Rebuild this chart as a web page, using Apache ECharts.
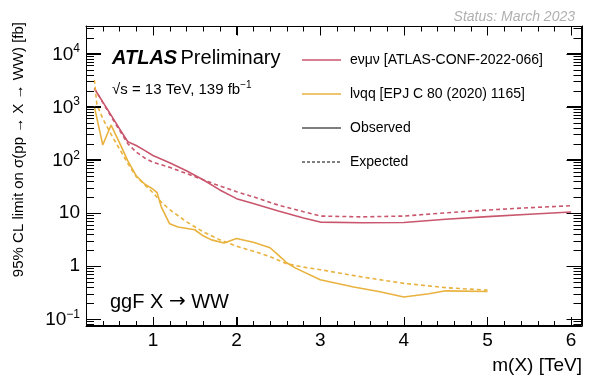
<!DOCTYPE html>
<html>
<head>
<meta charset="utf-8">
<script src="https://cdn.jsdelivr.net/npm/echarts@6/dist/echarts.min.js"></script>
<style>
  html, body { margin: 0; padding: 0; background: #ffffff; }
  #chart { width: 589px; height: 383px; }
</style>
</head>
<body>
<div id="chart"></div>
<script>
// ggF X -> WW: 95% CL upper limits on sigma(pp -> X -> WW) in fb versus m(X) in TeV

// e nu mu nu channel [ATLAS-CONF-2022-066]
const emuMass     = [0.3, 0.4, 0.5, 0.6, 0.7, 0.8, 0.9, 1.0, 1.2, 1.4, 1.6, 1.8, 2.0, 2.2, 2.5, 2.8, 3.0, 3.5, 4.0, 4.5, 5.0, 5.5, 6.0];
const emuObserved = [2200, 1230, 690, 385, 218, 185, 150, 120, 88, 62, 42, 27, 18.5, 15, 10.8, 8.0, 6.7, 6.5, 6.6, 7.6, 8.5, 9.4, 10.4];
const emuExpected = [2200, 1200, 650, 360, 200, 140, 108, 90, 72, 55, 42, 32, 25, 20, 14, 10.5, 8.7, 8.4, 8.7, 10.0, 11.3, 12.5, 13.6];

// l nu qq channel [EPJ C 80 (2020) 1165]
const lvqqObsMass = [0.3, 0.4, 0.5, 0.6, 0.7, 0.8, 0.9, 1.0, 1.05, 1.1, 1.2, 1.3, 1.5, 1.6, 1.7, 1.85, 2.0, 2.2, 2.4, 2.5, 2.6, 2.7, 3.0, 3.4, 3.7, 4.0, 4.3, 4.5, 5.0];
const lvqqObserved = [1000, 190, 450, 210, 95, 50, 35, 28, 24, 13, 6.2, 5.4, 4.8, 3.7, 3.1, 2.7, 3.3, 2.8, 2.2, 1.6, 1.15, 0.92, 0.55, 0.4, 0.33, 0.26, 0.3, 0.34, 0.33];
const lvqqExpMass = [0.3, 0.33, 0.4, 0.5, 0.6, 0.7, 0.8, 0.9, 1.0, 1.1, 1.2, 1.4, 1.6, 1.8, 2.0, 2.2, 2.4, 2.6, 2.8, 3.0, 3.5, 4.0, 4.5, 5.0];
const lvqqExpected = [3200, 1100, 600, 300, 160, 85, 48, 34, 24, 16, 11.5, 6.8, 4.4, 3.1, 2.35, 1.9, 1.5, 1.1, 0.95, 0.85, 0.62, 0.47, 0.39, 0.35];

// axis ticks
const xMajorTicks = [1, 2, 3, 4, 5, 6];
const yMajorTicks = [0.1, 1, 10, 100, 1000, 10000];
const xRange = [0.2, 6.13];
const yRange = [0.074, 33000];

const xMinorTicks = [];
for (let i = 1; i <= 30; i++) {
  const v = Math.round(i * 2) / 10;
  if (v > xRange[0] && v < xRange[1] && !xMajorTicks.includes(v)) xMinorTicks.push(v);
}
const yMinorTicks = [];
for (let e = -2; e <= 4; e++) {
  for (let d = 2; d <= 9; d++) {
    const v = d * Math.pow(10, e);
    if (v > yRange[0] && v < yRange[1]) yMinorTicks.push(v);
  }
}

const RED = '#c9566d';
const YELLOW = '#e9b23e';
const FONT = '"Liberation Sans", Arial, Helvetica, sans-serif';

const pairs = (xs, ys) => xs.map((x, i) => [x, ys[i]]);

function powerLabel(v) {
  const e = Math.round(Math.log10(v));
  if (e === 0) return '{b|1}';
  if (e === 1) return '{b|10}';
  return '{b|10}{sup|' + (e < 0 ? '\u2212' + (-e) : e) + '}';
}

const lineStyleBlack = () => ({ color: '#000', width: 1 });

function xAxisDef(position, withLabels) {
  return {
    type: 'value', position: position, min: xRange[0], max: xRange[1],
    axisLine: { show: true, onZero: false, lineStyle: lineStyleBlack() },
    axisTick: { show: true, inside: true, length: 9, customValues: xMajorTicks, lineStyle: lineStyleBlack() },
    axisLabel: withLabels
      ? { show: true, customValues: xMajorTicks, margin: 5, fontSize: 19, color: '#000', fontFamily: FONT }
      : { show: false },
    splitLine: { show: false }
  };
}

function yAxisDef(position, withLabels) {
  return {
    type: 'log', logBase: 10, position: position, min: yRange[0], max: yRange[1],
    axisLine: { show: true, onZero: false, lineStyle: lineStyleBlack() },
    axisTick: { show: true, inside: true, length: 15, customValues: yMajorTicks, lineStyle: lineStyleBlack() },
    axisLabel: withLabels
      ? {
          show: true, customValues: yMajorTicks, margin: 6, color: '#000',
          formatter: powerLabel,
          rich: {
            b: { fontSize: 19, fontFamily: FONT, color: '#000', verticalAlign: 'bottom' },
            sup: { fontSize: 12, fontFamily: FONT, color: '#000', verticalAlign: 'bottom', padding: [0, 0, 9, 0] }
          }
        }
      : { show: false },
    splitLine: { show: false }
  };
}

function lineSeries(name, data, color, dashed) {
  return {
    name: name, type: 'line', data: data,
    xAxisIndex: 0, yAxisIndex: 0,
    showSymbol: false, symbol: 'none', smooth: false,
    lineStyle: { color: color, width: 1.6, type: dashed ? [4, 3] : 'solid' },
    silent: true, z: 3
  };
}

// tick marks along the bottom and left sides, placed through the axis scales
const snap = p => Math.round(p) + 0.5;
const tickStyle = { stroke: '#000', lineWidth: 1 };

function xTickSeries(values, len) {
  return {
    type: 'custom', xAxisIndex: 0, yAxisIndex: 0, silent: true, clip: false, z: 4,
    data: values.map(v => [v, 1]),
    renderItem: (params, api) => {
      const cs = params.coordSys;
      const px = snap(api.coord([api.value(0), 1])[0]);
      const bottom = cs.y + cs.height;
      return { type: 'line', shape: { x1: px, y1: bottom, x2: px, y2: bottom - len }, style: tickStyle };
    }
  };
}

function yTickSeries(values, len) {
  return {
    type: 'custom', xAxisIndex: 0, yAxisIndex: 0, silent: true, clip: false, z: 4,
    data: values.map(v => [1, v]),
    renderItem: (params, api) => {
      const cs = params.coordSys;
      const py = snap(api.coord([1, api.value(1)])[1]);
      return { type: 'line', shape: { x1: cs.x, y1: py, x2: cs.x + len, y2: py }, style: tickStyle };
    }
  };
}

const legendRows = [
  { y: 60, color: RED, dashed: false, text: 'e\u03bd\u03bc\u03bd [ATLAS-CONF-2022-066]' },
  { y: 94, color: YELLOW, dashed: false, text: 'l\u03bdqq [EPJ C 80 (2020) 1165]' },
  { y: 128, color: '#555555', dashed: false, text: 'Observed' },
  { y: 162, color: '#000000', dashed: true, text: 'Expected' }
];

const graphics = [];
legendRows.forEach(r => {
  graphics.push({
    type: 'line', shape: { x1: 302, y1: r.y, x2: 341, y2: r.y },
    style: { stroke: r.color, lineWidth: r.dashed ? 1 : 1.6, lineDash: r.dashed ? [3, 2] : null }
  });
  graphics.push({
    type: 'text', x: 350, y: r.y,
    style: { text: r.text, fill: '#000', font: '14px ' + FONT, verticalAlign: 'middle' }
  });
});

graphics.push(
  {
    type: 'text', x: 575, y: 17,
    style: { text: 'Status: March 2023', fill: '#b0b0b0', font: 'italic 14px ' + FONT, align: 'right', verticalAlign: 'middle' }
  },
  {
    type: 'text', x: 112, y: 58,
    style: {
      text: '{a|ATLAS} {p|Preliminary}', verticalAlign: 'middle',
      rich: {
        a: { font: 'italic bold 20px ' + FONT, fill: '#000' },
        p: { font: '20px ' + FONT, fill: '#000' }
      }
    }
  },
  {
    type: 'text', x: 112, y: 89,
    style: {
      text: '{t|\u221as = 13 TeV, 139 fb}{s|\u22121}', verticalAlign: 'middle',
      rich: {
        t: { font: '15px ' + FONT, fill: '#000', verticalAlign: 'bottom' },
        s: { font: '10px ' + FONT, fill: '#000', verticalAlign: 'bottom', padding: [0, 0, 7, 0] }
      }
    }
  },
  {
    type: 'text', x: 110, y: 302,
    style: {
      text: '{t|ggF X }{r|\u2192}{t| WW}', verticalAlign: 'middle',
      rich: {
        t: { font: '20px ' + FONT, fill: '#000' },
        r: { font: '20px "DejaVu Sans", sans-serif', fill: '#000' }
      }
    }
  },
  {
    type: 'text', x: 582, y: 366,
    style: { text: 'm(X) [TeV]', fill: '#000', font: '19px ' + FONT, align: 'right', verticalAlign: 'middle' }
  },
  {
    type: 'text', x: 19, y: 22, rotation: Math.PI / 2,
    style: { text: '95% CL limit on \u03c3(pp \u2192 X \u2192 WW) [fb]', fill: '#000', font: '15px ' + FONT, align: 'right', verticalAlign: 'middle' }
  }
);

const option = {
  animation: false,
  backgroundColor: '#ffffff',
  textStyle: { fontFamily: FONT },
  grid: { left: 86, right: 7, top: 26, bottom: 57, containLabel: false, outerBoundsMode: 'none' },
  xAxis: [xAxisDef('bottom', true), xAxisDef('top', false)],
  yAxis: [yAxisDef('left', true), yAxisDef('right', false)],
  series: [
    lineSeries('e\u03bd\u03bc\u03bd expected', pairs(emuMass, emuExpected), RED, true),
    lineSeries('e\u03bd\u03bc\u03bd observed', pairs(emuMass, emuObserved), RED, false),
    lineSeries('l\u03bdqq expected', pairs(lvqqExpMass, lvqqExpected), YELLOW, true),
    lineSeries('l\u03bdqq observed', pairs(lvqqObsMass, lvqqObserved), YELLOW, false),
    xTickSeries(xMajorTicks, 9),
    xTickSeries(xMinorTicks, 5),
    yTickSeries(yMajorTicks, 15),
    yTickSeries(yMinorTicks, 8)
  ],
  graphic: graphics
};

const chart = echarts.init(document.getElementById('chart'), null, { renderer: 'canvas' });
chart.setOption(option);

// closed frame with mirrored ticks on the top and right sides, located through the grid's scales
const toPx = (x, y) => chart.convertToPixel({ gridIndex: 0 }, [x, y]);
const cornerTL = toPx(xRange[0], yRange[1]);
const cornerBR = toPx(xRange[1], yRange[0]);
const L = snap(cornerTL[0]), T = snap(cornerTL[1]);
const R = Math.round(cornerBR[0]) - 0.5, B = Math.round(cornerBR[1]) - 0.5;
const frameStyle = { stroke: '#000', lineWidth: 1, fill: null };
const frame = [
  { type: 'rect', z: 100, zlevel: 1, shape: { x: L, y: T, width: R - L, height: B - T }, style: { stroke: '#000', lineWidth: 1, fill: 'rgba(0,0,0,0)' } }
];
xMajorTicks.concat(xMinorTicks).forEach(v => {
  const len = xMajorTicks.includes(v) ? 9 : 5;
  const px = snap(toPx(v, yRange[0])[0]);
  frame.push({ type: 'line', z: 100, zlevel: 1, shape: { x1: px, y1: T, x2: px, y2: T + len }, style: frameStyle });
});
yMajorTicks.concat(yMinorTicks).forEach(v => {
  const len = yMajorTicks.includes(v) ? 15 : 8;
  const py = snap(toPx(xRange[0], v)[1]);
  frame.push({ type: 'line', z: 100, zlevel: 1, shape: { x1: R, y1: py, x2: R - len, y2: py }, style: frameStyle });
});
chart.setOption({ graphic: graphics.concat(frame) });
</script>
</body>
</html>
